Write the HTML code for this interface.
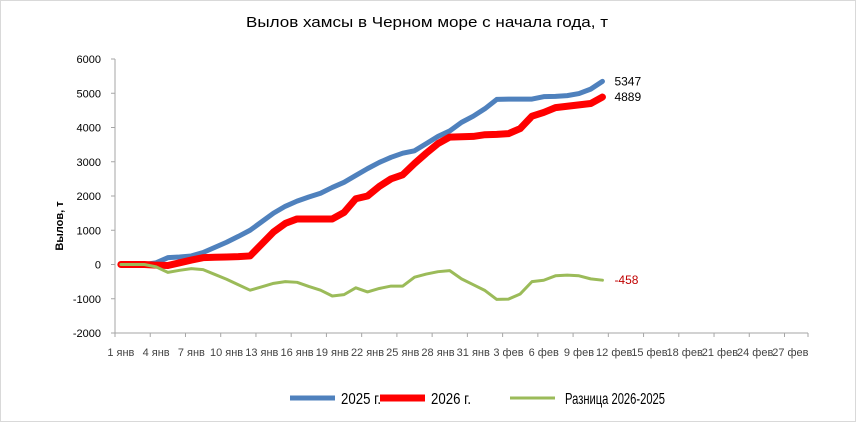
<!DOCTYPE html>
<html><head><meta charset="utf-8"><style>
body{margin:0;background:#fff}
svg{display:block;font-family:"Liberation Sans",sans-serif}
</style></head><body>
<svg id="chart" width="856" height="422" viewBox="0 0 856 422">
<rect x="0.5" y="0.5" width="855" height="421" fill="#fff" stroke="#d9d9d9"/>
<text x="427" y="27" text-anchor="middle" font-size="15" fill="#000" textLength="362" lengthAdjust="spacingAndGlyphs">Вылов хамсы в Черном море с начала года, т</text>
<text transform="translate(63,226) rotate(-90)" text-anchor="middle" font-size="11" font-weight="bold">Вылов, т</text>
<g id="grid"></g><g id="series"></g>
<g>
<line x1="290" y1="398" x2="335" y2="398" stroke="#4f81bd" stroke-width="5"/>
<text x="341" y="404" font-size="16" textLength="40" lengthAdjust="spacingAndGlyphs">2025 г.</text>
<line x1="380" y1="398" x2="425" y2="398" stroke="#ff0000" stroke-width="7"/>
<text x="431" y="404" font-size="16" textLength="40" lengthAdjust="spacingAndGlyphs">2026 г.</text>
<line x1="510" y1="398" x2="555" y2="398" stroke="#9bbb59" stroke-width="3"/>
<text x="565" y="404" font-size="16" textLength="100" lengthAdjust="spacingAndGlyphs">Разница 2026-2025</text>
</g>
</svg>
<script>
const categories=["1 янв","4 янв","7 янв","10 янв","13 янв","16 янв","19 янв","22 янв","25 янв","28 янв","31 янв","3 фев","6 фев","9 фев","12 фев","15 фев","18 фев","21 фев","24 фев","27 фев"];
const yTicks=[-2000,-1000,0,1000,2000,3000,4000,5000,6000];
const s2025=[0,0,0,50,200,220,250,350,500,650,820,1000,1250,1500,1700,1850,1970,2080,2250,2400,2600,2800,2980,3130,3250,3320,3530,3740,3900,4150,4330,4550,4820,4830,4830,4830,4900,4910,4930,4990,5120,5347];
const s2026=[0,0,0,-20,-30,50,130,200,210,220,230,250,600,950,1200,1330,1330,1330,1330,1520,1920,2000,2280,2500,2620,2950,3250,3530,3720,3730,3740,3790,3800,3820,3970,4330,4440,4580,4620,4660,4700,4889];
const sDiff=[0,0,0,-70,-230,-170,-120,-150,-290,-430,-590,-750,-650,-550,-500,-520,-640,-750,-920,-880,-680,-800,-700,-630,-630,-370,-280,-210,-180,-420,-590,-760,-1020,-1010,-860,-500,-460,-330,-310,-330,-420,-458];
const NS="http://www.w3.org/2000/svg";
const X0=115,X1=808,N=59,Y0=333,Y1=59,VMIN=-2000,VMAX=6000;
const step=(X1-X0)/N;
const xs=i=>X0+(i+0.5)*step;
const ys=v=>Y0-(v-VMIN)/(VMAX-VMIN)*(Y0-Y1);
function mk(t,a,p){const e=document.createElementNS(NS,t);for(const k in a)e.setAttribute(k,a[k]);p.appendChild(e);return e;}
const g=document.getElementById('grid'),sg=document.getElementById('series');
const ax=mk('line',{x1:X0,y1:Y1,x2:X0,y2:Y0,stroke:'#a6a6a6'},g);


const bx=mk('line',{x1:X0,y1:Y0,x2:X1,y2:Y0,stroke:'#a6a6a6'},g);


yTicks.forEach(v=>{
 const t=mk('text',{x:X0-14,y:ys(v)+4,'text-anchor':'end','font-size':'11',fill:'#000'},g);t.textContent=v;
 
 
 mk('line',{x1:X0-4,y1:ys(v),x2:X0,y2:ys(v),stroke:'#a6a6a6'},g);
});
categories.forEach((c,k)=>{
 const i=k*3;
 mk('line',{x1:X0+i*step,y1:Y0,x2:X0+i*step,y2:Y0+4,stroke:'#a6a6a6'},g);
 const t=mk('text',{x:xs(i),y:356,'text-anchor':'middle','font-size':'11',fill:'#444'},g);
 t.textContent=c;
 
 
});
mk('line',{x1:X1,y1:Y0,x2:X1,y2:Y0+4,stroke:'#a6a6a6'},g);
function line(arr,color,w,name){
 const p=mk('polyline',{points:arr.map((v,i)=>xs(i)+','+ys(v)).join(' '),fill:'none',stroke:color,'stroke-width':w,'stroke-linejoin':'round','stroke-linecap':'round'},sg);
 
 
}
line(s2025,'#4f81bd',5,'series-2025');
line(s2026,'#ff0000',7,'series-2026');
line(sDiff,'#9bbb59',3,'series-diff');
function lab(arr,color,name){
 const i=arr.length-1;
 const t=mk('text',{x:xs(i)+12,y:ys(arr[i])+4,'font-size':'12',fill:color},sg);t.textContent=arr[i];
 
 
}
lab(s2025,'#000','label-2025');lab(s2026,'#000','label-2026');lab(sDiff,'#c00000','label-diff');
</script>
</body></html>
